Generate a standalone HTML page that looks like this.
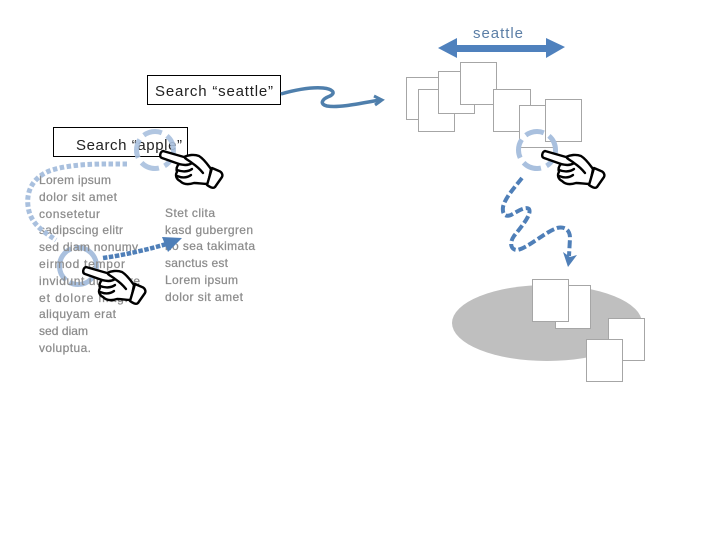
<!DOCTYPE html>
<html><head><meta charset="utf-8"><style>html,body{margin:0;padding:0;background:#fff}svg{display:block}
.p{font:12px "Liberation Sans",sans-serif;fill:#8c8c8c;stroke:#8c8c8c;stroke-width:.25}
.s{font:15px "Liberation Sans",sans-serif;fill:#222}
rect.d{fill:#fff;stroke:#a6a6a6;stroke-width:1}
</style></head><body>
<svg width="720" height="540" viewBox="0 0 720 540" xmlns="http://www.w3.org/2000/svg">
<defs>
<g id="hand" stroke="#000" stroke-width="2.400" stroke-linejoin="round" stroke-linecap="round">
<path fill="#fff" d="M2 -3 L23 3 C27 1 33 0 38 2 C43 5 47 11 50 15 L47 30 C41 30 38 29 33 29 C27 31 22 30 19 27 C15 25 14 21 16 18 C15 15 16 12 18 10 L1 4 C-2 3 -1 -2 2 -3Z"/>
<path fill="#fff" d="M51 14 L58 17 C61 18 62 21 61 23 L54 33 C52 35 49 33 46 31Z"/>
<path fill="none" d="M18 10 C22 11 27 12 31 9 M16 16 C21 18 27 18 31 15 M16 22 C21 24 26 24 30 21 M31 9 C34 11 38 14 42 19 M24 4 C26 6 29 7 31 9"/>
</g>
</defs>

<!-- circle behind text -->
<circle cx="78" cy="266" r="18.500" fill="none" stroke="#a9c0de" stroke-width="5" stroke-dasharray="38 4"/>

<!-- paragraphs -->
<text class="p" x="39" y="184" textLength="72">Lorem ipsum</text>
<text class="p" x="39" y="201" textLength="78">dolor sit amet</text>
<text class="p" x="39" y="218" textLength="61">consetetur</text>
<text class="p" x="39" y="234" textLength="84">sadipscing elitr</text>
<text class="p" x="39" y="251" textLength="99">sed diam nonumy</text>
<text class="p" x="39" y="268" textLength="86">eirmod tempor</text>
<text class="p" x="39" y="285" textLength="101">invidunt ut labore</text>
<text class="p" x="39" y="302" textLength="100">et dolore magna</text>
<text class="p" x="39" y="318" textLength="77">aliquyam erat</text>
<text class="p" x="39" y="335" textLength="49">sed diam</text>
<text class="p" x="39" y="352" textLength="52">voluptua.</text>
<text class="p" x="165" y="217" textLength="50">Stet clita</text>
<text class="p" x="165" y="234" textLength="88">kasd gubergren</text>
<text class="p" x="165" y="250" textLength="90">no sea takimata</text>
<text class="p" x="165" y="267" textLength="63">sanctus est</text>
<text class="p" x="165" y="284" textLength="73">Lorem ipsum</text>
<text class="p" x="165" y="301" textLength="78">dolor sit amet</text>

<!-- dotted connector -->
<path d="M127 164 C105 164 75 163 52 170 C34 176 26 190 28 206 C30 224 44 232 56 240" fill="none" stroke="#a9c0de" stroke-width="5" stroke-dasharray="4.500 2.500"/>
<path d="M103 258 C125 255 150 249 170 243" fill="none" stroke="#4f7fb8" stroke-width="4.500" stroke-dasharray="4.500 1.500"/>
<path d="M162 237 L182 238 L168 252 Z" fill="#4f7fb8"/>

<!-- search boxes -->
<rect x="147.500" y="75.500" width="133" height="29" fill="#fff" stroke="#000"/>
<text class="s" x="155" y="96" textLength="118">Search “seattle”</text>
<rect x="53.500" y="127.500" width="134" height="29" fill="#fff" stroke="#000"/>
<text class="s" x="76" y="150" textLength="106">Search “apple”</text>
<circle cx="155" cy="150" r="18.500" fill="none" stroke="#a9c0de" stroke-width="5" stroke-dasharray="19 6" opacity=".9"/>

<!-- wavy arrow top -->
<path d="M281 94 C295 90 310 87 323 88 C333 89 336 93 330 96 C322 99 319 104 327 106 C340 108 362 103 380 100" fill="none" stroke="#4f7fac" stroke-width="3.500"/>
<path d="M374 96 L382 100 L375 105" fill="none" stroke="#4f7fac" stroke-width="3"/>

<!-- seattle -->
<text x="498" y="38" text-anchor="middle" textLength="50" style="font:15px 'Liberation Sans',sans-serif;fill:#5b7ea6">seattle</text>
<path d="M438 48 L457 38 V45 H546 V38 L565 47 L546 58 V52 H457 V58 Z" fill="#4f81bd"/>

<!-- top docs -->
<rect class="d" x="406.500" y="77.500" width="36" height="42"/>
<rect class="d" x="418.500" y="89.500" width="36" height="42"/>
<rect class="d" x="438.500" y="71.500" width="36" height="42"/>
<rect class="d" x="460.500" y="62.500" width="36" height="42"/>
<rect class="d" x="493.500" y="89.500" width="37" height="42"/>
<rect class="d" x="519.500" y="105.500" width="36" height="42"/>
<rect class="d" x="545.500" y="99.500" width="36" height="42"/>
<circle cx="537" cy="150" r="18.500" fill="none" stroke="#a9c0de" stroke-width="5" stroke-dasharray="19 6"/>

<!-- dashed squiggle -->
<path d="M522 178 C514 188 505 198 503 207 C502 215 506 217 511 215 C518 211 526 206 529 209 C532 214 522 226 514 236 C509 243 511 250 517 250 C528 248 545 232 557 228 C566 226 570 231 570 238 L569 256" fill="none" stroke="#4f7fb8" stroke-width="4" stroke-dasharray="8 3"/>
<path d="M563 252 L570 257 L577 255 L568 267 Z" fill="#4f7fb8"/>

<!-- ellipse & docs -->
<ellipse cx="547" cy="323" rx="95" ry="38" fill="#bfbfbf"/>
<rect class="d" x="555.500" y="285.500" width="35" height="43"/>
<rect class="d" x="532.500" y="279.500" width="36" height="42"/>
<rect class="d" x="608.500" y="318.500" width="36" height="42"/>
<rect class="d" x="586.500" y="339.500" width="36" height="42"/>

<!-- hands -->
<use href="#hand" x="161" y="154"/>
<use href="#hand" x="543" y="154"/>
<use href="#hand" x="84" y="270"/>
</svg>
</body></html>
